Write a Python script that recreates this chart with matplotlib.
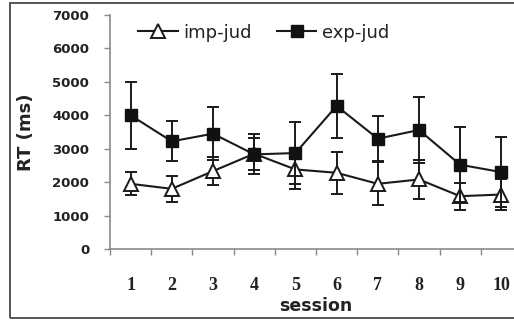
import matplotlib
matplotlib.use("Agg")
import matplotlib.pyplot as plt
from matplotlib.patches import Rectangle
from matplotlib.lines import Line2D
from matplotlib.ticker import FixedLocator

# session means and error bars (ms)
sessions = [1, 2, 3, 4, 5, 6, 7, 8, 9, 10]
imp_jud = [1950, 1800, 2330, 2850, 2380, 2280, 1950, 2080, 1580, 1630]
imp_err = [340, 380, 430, 480, 600, 620, 640, 570, 400, 460]
exp_jud = [4000, 3220, 3450, 2830, 2870, 4280, 3300, 3560, 2520, 2300]
exp_err = [1000, 600, 790, 600, 930, 950, 680, 980, 1120, 1050]
y_ticks = [0, 1000, 2000, 3000, 4000, 5000, 6000, 7000]

fig = plt.figure(figsize=(5.14, 3.22), dpi=100)
ax = fig.add_axes([110 / 514, 73 / 322, 412 / 514, 234 / 322])

# outer frame of the picture (right side is cut off)
fig.patches.append(Rectangle((10 / 514, 4 / 322), 1.2, 315 / 322,
                             transform=fig.transFigure, fill=False,
                             edgecolor="#555555", linewidth=1.4))

imp_style = dict(color="#1a1a1a", linewidth=1.5, marker="^", markersize=10,
                 markerfacecolor="white", markeredgecolor="#1a1a1a", markeredgewidth=1.4)
exp_style = dict(color="#1a1a1a", linewidth=1.5, marker="s", markersize=8.5,
                 markerfacecolor="#111111", markeredgecolor="#111111")

ax.errorbar(sessions, imp_jud, yerr=imp_err, capsize=4, capthick=1.4,
            elinewidth=1.4, zorder=3, **imp_style)
ax.errorbar(sessions, exp_jud, yerr=exp_err, capsize=4, capthick=1.4,
            elinewidth=1.4, zorder=4, **exp_style)

ax.set_xlim(0.5, 10.5)
ax.set_ylim(0, 7000)

for side in ["top", "right"]:
    ax.spines[side].set_visible(False)
for side in ["left", "bottom"]:
    ax.spines[side].set_color("#8a8a8a")
    ax.spines[side].set_linewidth(1.2)

ax.set_yticks(y_ticks)
ax.set_yticklabels([str(v) for v in y_ticks], fontsize=9.5, fontweight="bold",
                   family="DejaVu Sans", color="#222222")
ax.tick_params(axis="y", direction="out", length=4, width=1, color="#8a8a8a", pad=11)

ax.set_xticks(sessions)
ax.set_xticklabels([str(s) for s in sessions], fontsize=13, fontweight="bold",
                   family="Liberation Serif", color="#222222")
ax.tick_params(axis="x", which="major", length=0, pad=20)
ax.xaxis.set_minor_locator(FixedLocator([s + 0.5 for s in [0] + sessions]))
ax.tick_params(axis="x", which="minor", direction="out", length=4, width=1,
               color="#8a8a8a")

ax.set_ylabel("RT (ms)", fontsize=13, fontweight="bold", color="#222222", labelpad=12)
ax.set_xlabel("session", fontsize=12.5, fontweight="bold", color="#222222", labelpad=2)

handles = [Line2D([], [], **imp_style), Line2D([], [], **exp_style)]
leg = ax.legend(handles, ["imp-jud", "exp-jud"], loc="center left",
                bbox_to_anchor=(0.05, 0.925), ncol=2, frameon=False,
                fontsize=13, handlelength=2.2, handletextpad=0.3, columnspacing=1.4,
                borderaxespad=0, numpoints=1)
for t in leg.get_texts():
    t.set_color("#222222")

fig.savefig("out.png", dpi=100)
